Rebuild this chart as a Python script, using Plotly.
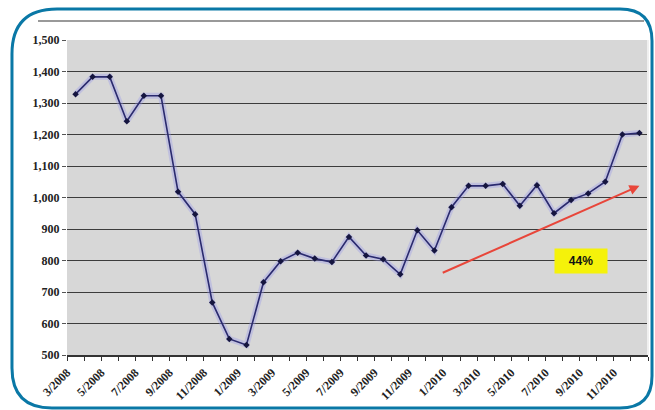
import plotly.graph_objects as go

months = ["3/2008","4/2008","5/2008","6/2008","7/2008","8/2008","9/2008","10/2008","11/2008","12/2008",
          "1/2009","2/2009","3/2009","4/2009","5/2009","6/2009","7/2009","8/2009","9/2009","10/2009","11/2009","12/2009",
          "1/2010","2/2010","3/2010","4/2010","5/2010","6/2010","7/2010","8/2010","9/2010","10/2010","11/2010","12/2010"]
values = [1328, 1383, 1383, 1242, 1323, 1323, 1018, 947, 667, 551,
          532, 731, 798, 825, 806, 795, 875, 816, 804, 756, 896, 832,
          969, 1037, 1037, 1043, 974, 1039, 950, 992, 1013, 1050, 1200, 1205]
y_ticks = [500, 600, 700, 800, 900, 1000, 1100, 1200, 1300, 1400, 1500]
y_labels = ["500", "600", "700", "800", "900", "1,000", "1,100", "1,200", "1,300", "1,400", "1,500"]
trend_start = (21.4, 759)
trend_end = (33.0, 1037)
trend_label = "44%"
label_pos = (29.6, 800)

W, H = 655, 410
ML, MR, MT, MB = 67, 7, 40, 55
PW, PH = W - ML - MR, H - MT - MB

def px(x):
    return (x - ML) / PW

def py(y):
    return (H - MB - y) / PH

def frame_path(x0, y0, x1, y1, rtl, rtr, rbr, rbl):
    pts = [
        ("M", [(x0, y0 + rtl)]),
        ("Q", [(x0, y0), (x0 + rtl, y0)]),
        ("L", [(x1 - rtr, y0)]),
        ("Q", [(x1, y0), (x1, y0 + rtr)]),
        ("L", [(x1, y1 - rbr)]),
        ("Q", [(x1, y1), (x1 - rbr, y1)]),
        ("L", [(x0 + rbl, y1)]),
        ("Q", [(x0, y1), (x0, y1 - rbl)]),
    ]
    s = ""
    for cmd, ps in pts:
        s += cmd + " " + " ".join(f"{px(a):.4f},{py(b):.4f}" for a, b in ps) + " "
    return s + "Z"

n = len(months)
xs = list(range(n))

fig = go.Figure()
fig.add_trace(go.Scatter(
    x=xs, y=values, mode="lines",
    line=dict(color="rgba(150,150,235,0.35)", width=6),
    hoverinfo="skip", showlegend=False,
))
fig.add_trace(go.Scatter(
    x=xs, y=values, mode="lines+markers",
    line=dict(color="#2A2A6E", width=1.6),
    marker=dict(symbol="diamond", size=5, color="#15153F"),
    hoverinfo="skip", showlegend=False,
))

fig.update_layout(
    width=W, height=H,
    margin=dict(l=ML, r=MR, t=MT, b=MB),
    paper_bgcolor="white",
    plot_bgcolor="#D7D7D7",
    xaxis=dict(
        range=[-0.5, n - 0.5],
        tickmode="array",
        tickvals=[i - 0.5 for i in range(0, n, 2)],
        ticktext=months[::2],
        tickangle=-45,
        ticks="outside", ticklen=4, tickcolor="#333",
        minor=dict(dtick=1, tick0=-0.5, ticks="outside", ticklen=4, tickcolor="#333", showgrid=False),
        showgrid=False, zeroline=False,
        showline=True, linecolor="#333", linewidth=1.5,
        tickfont=dict(family="Liberation Serif", size=12, color="#222", weight="bold"),
        fixedrange=True,
    ),
    yaxis=dict(
        range=[500, 1500],
        tickmode="array", tickvals=y_ticks, ticktext=y_labels,
        ticks="outside", ticklen=4, tickcolor="#555",
        showgrid=True, gridcolor="#3C3C3C", gridwidth=1.3,
        zeroline=False, showline=False,
        tickfont=dict(family="Liberation Serif", size=12, color="#222", weight="bold"),
        fixedrange=True,
    ),
    shapes=[
        dict(type="path", xref="paper", yref="paper",
             path=frame_path(12, 9, 652, 408, 45, 32, 32, 40),
             line=dict(color="#0A78A6", width=3), fillcolor="rgba(0,0,0,0)", layer="above"),
        dict(type="line", xref="paper", yref="paper",
             x0=px(38), x1=px(644), y0=py(21), y1=py(21),
             line=dict(color="#999999", width=2)),
        dict(type="line", xref="paper", yref="paper",
             x0=1, x1=1, y0=0, y1=1,
             line=dict(color="#F0F0F0", width=2)),
    ],
    annotations=[
        dict(x=trend_end[0], y=trend_end[1], ax=trend_start[0], ay=trend_start[1],
             xref="x", yref="y", axref="x", ayref="y",
             showarrow=True, arrowhead=2, arrowsize=1, arrowwidth=2, arrowcolor="#E8463A", text=""),
        dict(x=label_pos[0], y=label_pos[1], xref="x", yref="y", text="<b>" + trend_label + "</b>",
             showarrow=False, bgcolor="#F5F20A", width=46, height=18, borderpad=3,
             font=dict(family="Liberation Sans", size=12, color="#111")),
    ],
)

fig.write_html("out.html", config={"displayModeBar": False},
               post_script="document.body.style.margin='0';document.body.style.overflow='hidden';")
